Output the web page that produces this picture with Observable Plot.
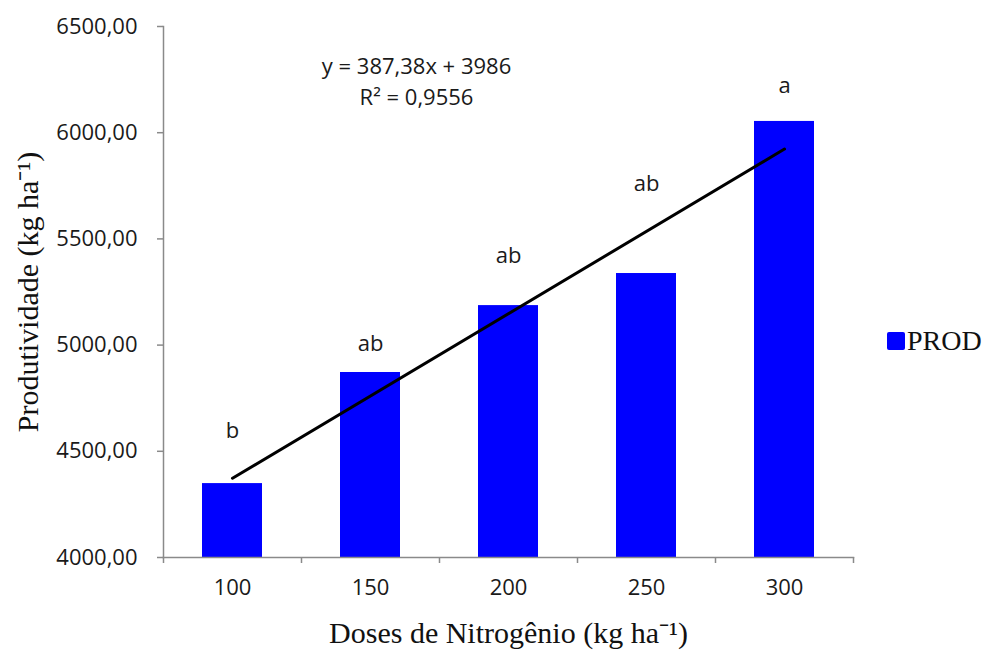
<!DOCTYPE html>
<html>
<head>
<meta charset="utf-8">
<script src="https://cdn.jsdelivr.net/npm/d3@7"></script>
<script src="https://cdn.jsdelivr.net/npm/@observablehq/plot@0.6"></script>
<style>
  html, body { margin: 0; padding: 0; background: #fff; }
  #wrap { position: relative; width: 989px; height: 650px; }
  #legend { position: absolute; left: 887px; top: 325px; display: flex; align-items: center;
            font-family: "Liberation Serif", "Times New Roman", serif; font-size: 28px; color: #111; }
  #legend .sw { width: 18px; height: 18px; background: #0000ff; border-radius: 2px; margin-right: 2px; }
</style>
</head>
<body>
<div id="wrap"><div id="legend"><span class="sw"></span><span>PROD</span></div></div>
<script>
// ---- data ----
const doses = ["100", "150", "200", "250", "300"];
const prod = [4348, 4871, 5186, 5337, 6053];
const letters = ["b", "ab", "ab", "ab", "a"];
const letterY = [4598, 5007, 5422, 5761, 6222];
const yTicks = [4000, 4500, 5000, 5500, 6000, 6500];
const trendDoses = ["100", "300"];
const trendValues = [4373, 5923];
const equationText = "y = 387,38x + 3986\nR² = 0,9556";
const seriesName = "PROD";
const xTitle = "Doses de Nitrogênio (kg ha⁻¹)";
const yTitle = "Produtividade (kg ha⁻¹)";

const bars = doses.map((d, i) => ({dose: d, value: prod[i], letter: letters[i], ly: letterY[i]}));
const trend = trendDoses.map((d, i) => ({dose: d, value: trendValues[i]}));

const W = 989, H = 650, ML = 163, MR = 136, MT = 26, MB = 93;
const halfStep = (W - ML - MR) / doses.length / 2;
const gray = "#8a8a8a";
const sans = "'Open Sans', sans-serif";
const serif = "'Liberation Serif', 'Times New Roman', serif";

const chart = Plot.plot({
  width: W, height: H,
  marginLeft: ML, marginRight: MR, marginTop: MT, marginBottom: MB,
  style: {background: "#fff", overflow: "visible"},
  x: {type: "band", domain: doses, paddingInner: 0.565, paddingOuter: 0.2825},
  y: {domain: [4000, 6500]},
  marks: [
    Plot.barY(bars, {x: "dose", y1: () => 4000, y2: "value", fill: "#0000ff"}),
    Plot.line(trend, {x: "dose", y: "value", stroke: "#000", strokeWidth: 3}),
    Plot.text(bars, {x: "dose", y: "ly", text: "letter", fontSize: 22, fontFamily: sans, fill: "#1a1a1a"}),
    Plot.text([equationText], {frameAnchor: "top", dx: -92, dy: 26, lineAnchor: "top", lineHeight: 1.4,
      fontSize: 22, fontFamily: sans, fill: "#1a1a1a"}),
    Plot.frame({anchor: "left", stroke: gray, strokeWidth: 1.5}),
    Plot.frame({anchor: "bottom", stroke: gray, strokeWidth: 1.5}),
    Plot.axisY({ticks: yTicks, text: null, tickSize: 6, stroke: gray, strokeWidth: 1.5, label: null}),
    Plot.axisY({ticks: yTicks, tickSize: 0, tickPadding: 26, label: null,
      tickFormat: d => d.toFixed(2).replace(".", ","), fontSize: 22, fontFamily: sans, fill: "#1a1a1a"}),
    Plot.ruleX(doses, {x: d => d, dx: -halfStep, insetTop: H - MT - MB, insetBottom: -6, stroke: gray, strokeWidth: 1.5}),
    Plot.ruleX([doses[doses.length - 1]], {x: d => d, dx: halfStep, insetTop: H - MT - MB, insetBottom: -6, stroke: gray, strokeWidth: 1.5}),
    Plot.axisX({tickSize: 0, tickPadding: 22, label: null, fontSize: 22, fontFamily: sans, fill: "#1a1a1a"}),
    Plot.text([xTitle], {frameAnchor: "bottom", textAnchor: "middle", dy: 76, lineAnchor: "middle", fontSize: 30, fontFamily: serif, fill: "#111"}),
    Plot.text([yTitle], {frameAnchor: "left", textAnchor: "middle", dx: -135, rotate: -90, lineAnchor: "middle", fontSize: 30, fontFamily: serif, fill: "#111"})
  ]
});
document.getElementById("wrap").prepend(chart);
document.getElementById("legend").lastChild.textContent = seriesName;
</script>
</body>
</html>
